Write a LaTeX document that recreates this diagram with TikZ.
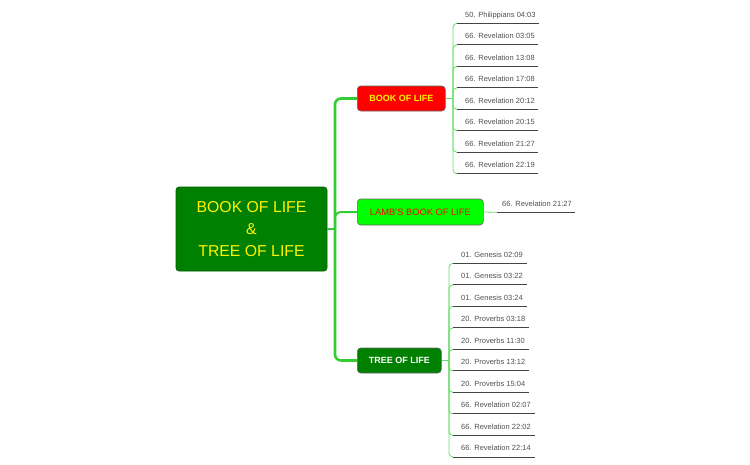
\documentclass[tikz,border=0pt]{standalone}
\usepackage{fontspec}
\setmainfont{Liberation Sans}
\definecolor{trunkc}{HTML}{33CC33}
\definecolor{leafc}{HTML}{66DD66}
\definecolor{rootg}{HTML}{008000}
\definecolor{leaftxt}{HTML}{505050}
\definecolor{uline}{HTML}{444444}
\begin{document}
\begin{tikzpicture}[x=1pt,y=-1pt,
  rootbox/.style={draw=rootg!70!black, line width=0.6pt, fill=rootg, rounded corners=3pt,
    minimum width=151pt, minimum height=84pt, inner sep=0pt, align=center,
    text=yellow, font=\fontsize{15.8}{22}\selectfont},
  mainbox/.style={draw=black!60, line width=0.6pt, rounded corners=3.5pt, anchor=west,
    minimum height=25pt, inner sep=0pt, font=\fontsize{9}{11}\selectfont},
  leafbox/.style={anchor=south west, inner xsep=8pt, inner ysep=4.5pt,
    text height=5.5pt, text depth=1.5pt, text=leaftxt, font=\fontsize{7.5}{9}\selectfont},
  trunk/.style={draw=trunkc, line width=2.6pt, rounded corners=6pt},
  leafline/.style={draw=leafc, line width=0.8pt, rounded corners=4pt},
  under/.style={draw=uline, line width=0.9pt}
]
\useasboundingbox (0,0) rectangle (750,464);

\node[rootbox] (root) at (251.5,229) {BOOK OF LIFE\\\&\\TREE OF LIFE};

\node[mainbox, fill=red, text=yellow, minimum width=88pt, font=\fontsize{9}{11}\selectfont\bfseries] (bol) at (357,98.5) {BOOK OF LIFE};
\node[mainbox, fill=green, text=red, minimum width=126pt, minimum height=26pt, font=\fontsize{9.3}{11}\selectfont] (lamb) at (357,212) {LAMB'S BOOK OF LIFE};
\node[mainbox, fill=rootg, text=white, minimum width=84pt, font=\fontsize{9}{11}\selectfont\bfseries] (tol) at (357,360.5) {TREE OF LIFE};

\coordinate (tr) at (335,229);
\draw[trunk] (root.east) -- (tr);
\draw[trunk] (tr) |- (bol.west);
\draw[trunk] (tr) |- (tol.west);
\draw[trunk, line width=2pt] (tr) |- (lamb.west);

% Book of life leaves
\coordinate (bb) at (453,98.5);
\draw[leafline] (bol.east) -- (bb);
\foreach \t [count=\i from 0] in {50. Philippians 04:03, 66. Revelation 03:05, 66. Revelation 13:08, 66. Revelation 17:08, 66. Revelation 20:12, 66. Revelation 20:15, 66. Revelation 21:27, 66. Revelation 22:19} {
  \node[leafbox] (b\i) at (457,23.3+21.5*\i) {\t};
  \draw[leafline] (bb) |- (b\i.south west);
  \draw[under] (b\i.south west) -- ([xshift=-4.5pt]b\i.south east);
}

% Lamb's book of life leaf
\node[leafbox, inner xsep=5pt] (l1) at (497,212.3) {66. Revelation 21:27};
\draw[leafline, rounded corners=0pt] (lamb.east) -- (l1.south west);
\draw[under] (l1.south west) -- ([xshift=-2pt]l1.south east);

% Tree of life leaves
\coordinate (tb) at (449,360.5);
\draw[leafline] (tol.east) -- (tb);
\foreach \t [count=\i from 0] in {01. Genesis 02:09, 01. Genesis 03:22, 01. Genesis 03:24, 20. Proverbs 03:18, 20. Proverbs 11:30, 20. Proverbs 13:12, 20. Proverbs 15:04, 66. Revelation 02:07, 66. Revelation 22:02, 66. Revelation 22:14} {
  \node[leafbox] (t\i) at (453,263.3+21.52*\i) {\t};
  \draw[leafline] (tb) |- (t\i.south west);
  \draw[under] (t\i.south west) -- ([xshift=-4pt]t\i.south east);
}
\end{tikzpicture}
\end{document}
